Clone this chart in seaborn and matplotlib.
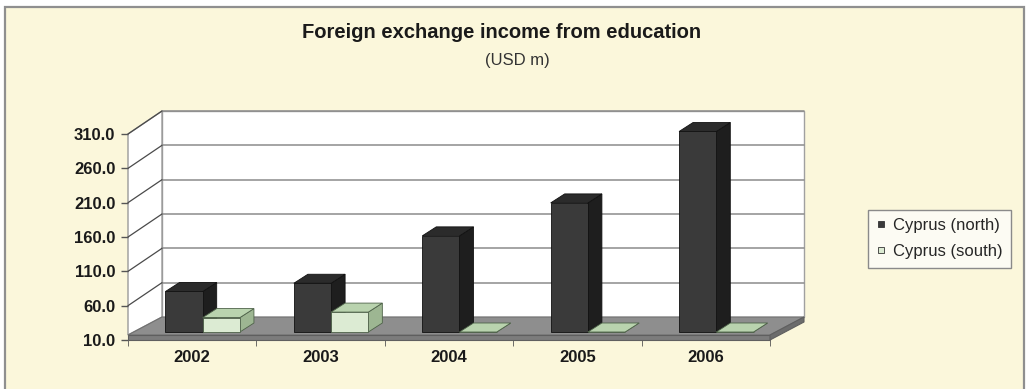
import numpy as np
import pandas as pd
import matplotlib
matplotlib.use("Agg")
import matplotlib.pyplot as plt
from matplotlib.patches import Polygon, Rectangle
from matplotlib.lines import Line2D
import seaborn as sns

# ---- data (USD m) ----
years = ["2002", "2003", "2004", "2005", "2006"]
north = [69.0, 81.0, 150.0, 198.0, 302.0]
south = [31.0, 39.0, 0.0, 0.0, 0.0]
series_names = ["Cyprus (north)", "Cyprus (south)"]
y_ticks = [10.0, 60.0, 110.0, 160.0, 210.0, 260.0, 310.0]

df = pd.DataFrame({
    "year": years * 2,
    "value": north + south,
    "series": [series_names[0]] * len(years) + [series_names[1]] * len(years),
})

sns.set_style("white")
plt.rcParams["font.family"] = ["Liberation Sans", "DejaVu Sans"]

W, H, DPI = 1029, 389, 100
fig = plt.figure(figsize=(W / DPI, H / DPI), dpi=DPI, facecolor="white")

# chart area background with thin grey frame
fig.patches.append(Rectangle((5 / W, -0.05), 1019 / W, 1.05 - 7 / H,
                             transform=fig.transFigure, facecolor="#FBF7DB",
                             edgecolor="#8f8f8f", lw=1.6, zorder=-10))

# front plane of the 3-D box
ax_l, ax_r, ax_b, ax_t = 128, 770, 340, 134   # pixel extents
ax = fig.add_axes([ax_l / W, 1 - ax_b / H, (ax_r - ax_l) / W, (ax_b - ax_t) / H])
ax.set_facecolor("none")
ymin, ymax = y_ticks[0], y_ticks[-1]
ax.set_xlim(-0.5, len(years) - 0.5)
ax.set_ylim(ymin, ymax)
sx = (ax_r - ax_l) / len(years)          # px per category
sy = (ax_b - ax_t) / (ymax - ymin)       # px per unit


def px(dx, dy):
    return dx / sx, dy / sy


x0, x1 = -0.5, len(years) - 0.5
bx, by = px(34, 23)      # depth of the box (back wall offset)
t = 5 / sy               # floor thickness

# back wall
ax.add_patch(Polygon([(x0 + bx, ymin + by), (x1 + bx, ymin + by),
                      (x1 + bx, ymax + by), (x0 + bx, ymax + by)],
                     closed=True, facecolor="white", edgecolor="#a0a0a0",
                     lw=1, zorder=0, clip_on=False))
# side wall
ax.add_patch(Polygon([(x0, ymin + t), (x0, ymax), (x0 + bx, ymax + by), (x0 + bx, ymin + by)],
                     closed=True, facecolor="white", edgecolor="#9a9a9a",
                     lw=1, zorder=0.2, clip_on=False))
# gridlines on back and side walls
for v in y_ticks[1:]:
    ax.plot([x0 + bx, x1 + bx], [v + by, v + by], color="#8c8c8c", lw=1.1,
            zorder=0.5, clip_on=False)
    ax.plot([x0, x0 + bx], [v, v + by], color="#4a4a4a", lw=0.9,
            zorder=0.5, clip_on=False)

# floor slab
ax.add_patch(Polygon([(x0, ymin + t), (x1, ymin + t), (x1 + bx, ymin + by), (x0 + bx, ymin + by)],
                     closed=True, facecolor="#8e8e8e", edgecolor="#707070",
                     lw=0.8, zorder=1, clip_on=False))
ax.add_patch(Polygon([(x0, ymin), (x1, ymin), (x1, ymin + t), (x0, ymin + t)],
                     closed=True, facecolor="#7c7c7c", edgecolor="#5f5f5f",
                     lw=0.8, zorder=1, clip_on=False))
ax.add_patch(Polygon([(x1, ymin), (x1 + bx, ymin + by - t), (x1 + bx, ymin + by), (x1, ymin + t)],
                     closed=True, facecolor="#6c6c6c", edgecolor="#5f5f5f",
                     lw=0.8, zorder=1, clip_on=False))

# bars (front faces) through seaborn
front_cols = ["#3a3a3a", "#dcebd3"]
sns.barplot(data=df, x="year", y="value", hue="series", hue_order=series_names,
            palette=front_cols, saturation=1, width=0.58, legend=False,
            order=years, ax=ax, edgecolor="#1a1a1a", linewidth=0.6, zorder=3)

top_cols = ["#2b2b2b", "#b9d3ae"]
side_cols = ["#1e1e1e", "#9db692"]
edge_cols = ["#111111", "#4d6148"]
ox, oy = px(10.5, 8)     # bars stand inside the box
dx, dy = px(14, 9)       # bar depth

bars = [p for p in ax.patches if isinstance(p, Rectangle)]
bars = sorted(bars, key=lambda p: p.get_x())
north_rgb = matplotlib.colors.to_rgba(front_cols[0])
z = 3.0
for p in bars:
    h = p.get_height()
    s = 0 if abs(p.get_facecolor()[0] - north_rgb[0]) < 0.05 else 1
    bx0 = p.get_x() + ox
    bw = p.get_width()
    base = ymin + oy
    top = base + max(h - ymin, 0)
    p.set_x(bx0)
    p.set_y(base)
    p.set_height(top - base)
    p.set_edgecolor(edge_cols[s])
    p.set_clip_on(False)
    side = Polygon([(bx0 + bw, base), (bx0 + bw + dx, base + dy),
                    (bx0 + bw + dx, top + dy), (bx0 + bw, top)],
                   closed=True, facecolor=side_cols[s], edgecolor=edge_cols[s],
                   lw=0.6, clip_on=False, zorder=z)
    tp = Polygon([(bx0, top), (bx0 + bw, top), (bx0 + bw + dx, top + dy), (bx0 + dx, top + dy)],
                 closed=True, facecolor=top_cols[s], edgecolor=edge_cols[s],
                 lw=0.6, clip_on=False, zorder=z + 0.1)
    ax.add_patch(side)
    ax.add_patch(tp)
    p.set_zorder(z + 0.2)
    z += 0.5

# axes styling
for sp in ax.spines.values():
    sp.set_visible(False)
ax.set_xlabel("")
ax.set_ylabel("")
ax.set_yticks(y_ticks)
ax.set_yticklabels([f"{v:.1f}" for v in y_ticks], fontsize=12, fontweight="bold",
                   color="#1a1a1a")
ax.tick_params(axis="y", length=5, width=1, color="#555555", pad=4, left=True)
ax.set_xticks(range(len(years)))
ax.set_xticklabels(years, fontsize=12, fontweight="bold", color="#1a1a1a")
ax.tick_params(axis="x", length=0, pad=7)
ax.set_xticks(np.arange(-0.5, len(years)), minor=True)
ax.tick_params(axis="x", which="minor", length=4, color="#555555", bottom=True)

# title
fig.text(502 / W, 1 - 33 / H, "Foreign exchange income from education",
         ha="center", va="center", fontsize=14.5, fontweight="bold", color="#1a1a1a")
fig.text(517 / W, 1 - 61 / H, "(USD m)", ha="center", va="center",
         fontsize=12, color="#333333")

# legend
handles = [Line2D([], [], ls="none", marker="s", markersize=5,
                  markerfacecolor=c, markeredgecolor="#333333", markeredgewidth=0.6)
           for c in front_cols]
leg = fig.legend(handles, series_names, loc="upper left",
                 bbox_to_anchor=(868 / W, 1 - 210 / H), borderaxespad=0,
                 frameon=True, fancybox=False,
                 fontsize=12, handlelength=0.6, handletextpad=0.4, borderpad=0.5,
                 labelspacing=0.65, edgecolor="#8a8a8a", facecolor="#fcfbf3",
                 framealpha=1)
leg.get_frame().set_linewidth(1)

fig.savefig("out.png", dpi=DPI, facecolor="white")
